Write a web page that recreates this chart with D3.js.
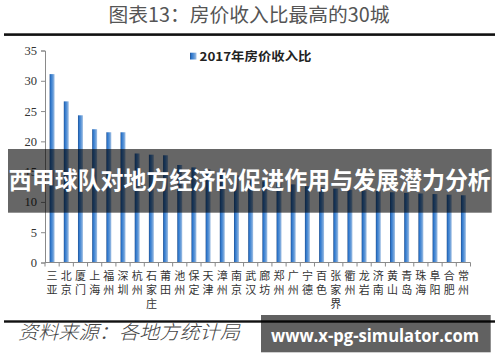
<!DOCTYPE html>
<html><head><meta charset="utf-8">
<script src="https://cdn.jsdelivr.net/npm/d3@7"></script>
<style>body{margin:0;background:#fff}svg{display:block}</style>
</head><body>
<svg id="c" width="500" height="362"></svg>
<script>
const cities = ["三亚","北京","厦门","上海","福州","深圳","杭州","石家庄","莆田","池州","保定","天津","漳州","南京","武汉","廊坊","郑州","广州","宁德","百色","张家界","衢州","龙岩","济南","黄山","青岛","珠海","阜阳","合肥","常州"];
const ratios = [31.1,26.6,24.3,22.0,21.5,21.5,18.0,17.8,17.7,16.1,15.7,15.4,15.3,14.4,13.6,13.4,13.1,12.9,12.6,12.4,12.2,12.0,11.9,11.8,11.6,11.5,11.4,11.3,11.2,11.1];
const yTicks = [0,5,10,15,20,25,30,35];
const seriesName = "2017年房价收入比";
const titleText = "图表13：房价收入比最高的30城";
const sourceText = "资料来源：各地方统计局";
const bannerText = "西甲球队对地方经济的促进作用与发展潜力分析";
const watermark = "www.x-pg-simulator.com";

const svg = d3.select("#c");
const defs = svg.append("defs");
const g = defs.append("linearGradient").attr("id","bg").attr("x1","0").attr("x2","1").attr("y1","0").attr("y2","0");
[["0%","#24508c"],["22%","#2c76cc"],["60%","#5a94d6"],["100%","#a3c1e4"]].forEach(s=>g.append("stop").attr("offset",s[0]).attr("stop-color",s[1]));

const cjk = "'Noto Sans CJK SC', sans-serif";
const serif = "'Liberation Serif', 'Times New Roman', serif";

// title
svg.append("text").attr("x",249).attr("y",22).attr("text-anchor","middle")
  .attr("font-family",cjk).attr("font-size",19.5).attr("fill","#555")
  .attr("textLength",281).attr("lengthAdjust","spacingAndGlyphs").text(titleText);
svg.append("rect").attr("x",4).attr("y",33.3).attr("width",491).attr("height",2.6).attr("fill","#111");

const x = d3.scaleBand().domain(cities).range([45,470.5]).paddingInner(0.65).paddingOuter(0.325);
const y = d3.scaleLinear().domain([0,35]).range([262.5,50.5]);

// y axis
const ya = svg.append("g").attr("transform","translate(45,0)")
  .call(d3.axisLeft(y).tickValues(yTicks).tickSize(4).tickPadding(4));
ya.select(".domain").attr("stroke","#8a8a8a");
ya.selectAll(".tick line").attr("stroke","#8a8a8a");
ya.selectAll(".tick text").attr("font-family",serif).attr("font-size",12.5).attr("fill","#333");

// bars
svg.append("g").selectAll("rect").data(cities).join("rect")
  .attr("x",d=>x(d)).attr("width",x.bandwidth())
  .attr("y",(d,i)=>y(ratios[i])).attr("height",(d,i)=>y(0)-y(ratios[i]))
  .attr("fill","url(#bg)");

// x axis
const xa = svg.append("g").attr("transform","translate(0,262.5)");
xa.append("line").attr("x1",45).attr("x2",470.5).attr("stroke","#8a8a8a");
const step = x.step();
const bounds = d3.range(cities.length+1).map(i=>45+i*step);
xa.selectAll("line.t").data(bounds).join("line").attr("class","t")
  .attr("x1",d=>d).attr("x2",d=>d).attr("y1",0).attr("y2",4).attr("stroke","#8a8a8a");
const lab = svg.append("g").selectAll("text").data(cities).join("text")
  .attr("font-family",cjk).attr("font-size",11).attr("fill","#333").attr("text-anchor","middle");
lab.each(function(d){
  const t = d3.select(this);
  Array.from(d).forEach((ch,k)=>{
    t.append("tspan").attr("x",x(d)+x.bandwidth()/2).attr("y",280+14*k).text(ch);
  });
});

// legend
svg.append("rect").attr("x",190).attr("y",52.7).attr("width",6.5).attr("height",6.8).attr("fill","url(#bg)");
svg.append("text").attr("x",199.5).attr("y",60.5).attr("font-family",cjk).attr("font-weight","bold")
  .attr("font-size",12).attr("fill","#222").attr("textLength",112).attr("lengthAdjust","spacingAndGlyphs").text(seriesName);

// bottom line + source
svg.append("rect").attr("x",4).attr("y",320.3).attr("width",491).attr("height",2.4).attr("fill","#111");
svg.append("text").attr("x",18).attr("y",339).attr("font-family",cjk).attr("font-style","italic")
  .attr("font-weight",300).attr("font-size",19).attr("fill","#444")
  .attr("textLength",222).attr("lengthAdjust","spacingAndGlyphs").text(sourceText);

// banner overlay
svg.append("rect").attr("x",8).attr("y",149).attr("width",483.7).attr("height",63.7).attr("fill","#000").attr("opacity",0.6);
svg.append("text").attr("x",249.8).attr("y",189).attr("text-anchor","middle")
  .attr("font-family",cjk).attr("font-weight","bold").attr("font-size",23.5).attr("fill","#fff")
  .attr("textLength",482).attr("lengthAdjust","spacingAndGlyphs").text(bannerText);

// watermark
svg.append("rect").attr("x",261).attr("y",315).attr("width",229.7).attr("height",37.3).attr("fill","#000").attr("opacity",0.62);
svg.append("text").attr("x",375).attr("y",342).attr("text-anchor","middle")
  .attr("font-family","'Open Sans', 'DejaVu Sans', sans-serif").attr("font-weight","bold").attr("font-size",18).attr("fill","#fff")
  .attr("textLength",208).attr("lengthAdjust","spacingAndGlyphs").text(watermark);
</script>
</body></html>
